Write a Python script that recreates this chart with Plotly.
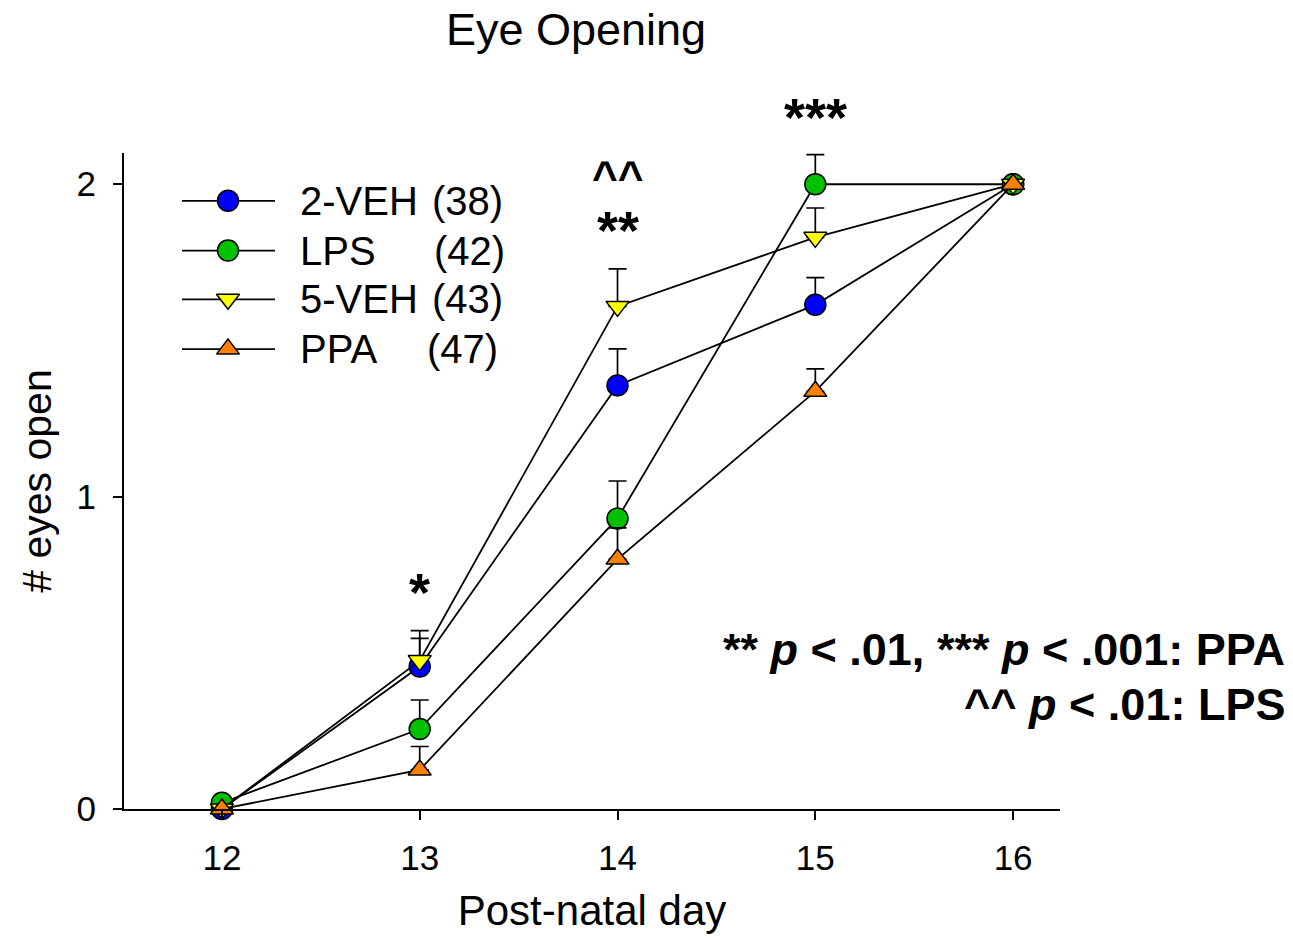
import plotly.graph_objects as go

# ---- data ----
days = [12, 13, 14, 15, 16]
groups = ["2-VEH", "LPS", "5-VEH", "PPA"]
counts = ["(38)", "(42)", "(43)", "(47)"]
veh2_mean = [0.0, 0.456, 1.356, 1.614, 2.0]
veh2_sem = [0.0, 0.090, 0.117, 0.087, 0.0]
lps_mean = [0.02, 0.256, 0.930, 2.0, 2.0]
lps_sem = [0.0, 0.093, 0.120, 0.095, 0.0]
veh5_mean = [0.0, 0.475, 1.609, 1.830, 2.0]
veh5_sem = [0.0, 0.096, 0.120, 0.094, 0.0]
ppa_mean = [0.0, 0.125, 0.800, 1.337, 2.0]
ppa_sem = [0.0, 0.075, 0.100, 0.072, 0.0]
x_ticks = [12, 13, 14, 15, 16]
y_ticks = [0, 1, 2]
sig_labels = ["*", "**", "^^", "***"]
sig_days = [13, 14, 14, 15]

means = [veh2_mean, lps_mean, veh5_mean, ppa_mean]
sems = [veh2_sem, lps_sem, veh5_sem, ppa_sem]
colors = ["#0000FF", "#00C000", "#FFFF00", "#FF8000"]
symbols = ["circle", "circle", "triangle-down", "triangle-up"]
sizes = [21, 21, 20, 20]

FONT = "Arial, 'Liberation Sans', sans-serif"

# plot-area pixel geometry
L, R, T, B = 124, 1060, 153, 812
W, H = 1293, 938
Y_MAX = 2.1


def px(xp):
    return (xp - L) / (R - L)


def py(yp):
    return (B - yp) / (B - T)


fig = go.Figure()
for g, m, s, c, sym, sz in zip(groups, means, sems, colors, symbols, sizes):
    fig.add_trace(go.Scatter(
        x=days, y=m, name=g, mode="lines+markers",
        line=dict(color="black", width=1.8),
        marker=dict(color=c, symbol=sym, size=sz, line=dict(color="black", width=1.5)),
        error_y=dict(type="data", array=s, arrayminus=[0] * len(s), symmetric=False,
                     color="black", thickness=1.7, width=9),
        showlegend=False, cliponaxis=False,
    ))

# ---- custom legend (drawn on a hidden pixel-scaled overlay axis) ----
leg_rows = [201, 251, 300, 350]
for g, c, sym, sz, row in zip(groups, colors, symbols, sizes, leg_rows):
    fig.add_trace(go.Scatter(
        x=[182, 275], y=[row, row], mode="lines", line=dict(color="black", width=1.8),
        xaxis="x2", yaxis="y2", showlegend=False, hoverinfo="skip"))
    fig.add_trace(go.Scatter(
        x=[228], y=[row], mode="markers",
        marker=dict(color=c, symbol=sym, size=sz, line=dict(color="black", width=1.5)),
        xaxis="x2", yaxis="y2", showlegend=False, hoverinfo="skip"))

annotations = []
count_right = [505, 507, 505, 500]
for g, n, row, cr in zip(groups, counts, leg_rows, count_right):
    annotations.append(dict(x=298, y=row, xref="x2", yref="y2", text=g, showarrow=False,
                            xanchor="left", yanchor="middle",
                            font=dict(size=40, family=FONT, color="black")))
    annotations.append(dict(x=cr, y=row, xref="x2", yref="y2", text=n, showarrow=False,
                            xanchor="right", yanchor="middle",
                            font=dict(size=40, family=FONT, color="black")))

# significance marks (x in data units, vertical placement in pixels of the picture)
sig_py = [594, 230, 177, 117]
sig_size = [54, 54, 44, 54]
for lab, d, yp, fs in zip(sig_labels, sig_days, sig_py, sig_size):
    annotations.append(dict(x=d, y=py(yp), xref="x", yref="paper", text="<b>%s</b>" % lab,
                            showarrow=False, xanchor="center", yanchor="middle",
                            font=dict(size=fs, family=FONT, color="black")))

annotations.append(dict(x=px(1287), y=py(652), xref="paper", yref="paper",
                        text="<b>** <i>p</i> &lt; .01, *** <i>p</i> &lt; .001: PPA</b>",
                        showarrow=False, xanchor="right", yanchor="middle",
                        font=dict(size=45, family=FONT, color="black")))
annotations.append(dict(x=px(1287), y=py(707), xref="paper", yref="paper",
                        text="<b>^^ <i>p</i> &lt; .01: LPS</b>",
                        showarrow=False, xanchor="right", yanchor="middle",
                        font=dict(size=45, family=FONT, color="black")))

fig.update_layout(
    width=W, height=938,
    margin=dict(l=L, r=W - R, t=T, b=H - B),
    paper_bgcolor="white", plot_bgcolor="rgba(0,0,0,0)",
    font=dict(family=FONT, color="black"),
    title=dict(text="Eye Opening", x=576 / W, xanchor="center", xref="container",
               y=1 - 29 / H, yanchor="middle", yref="container",
               font=dict(size=45, family=FONT, color="black")),
    xaxis=dict(range=[11.505, 16.237], tickvals=x_ticks, ticktext=[str(t) for t in x_ticks],
               showline=True, linecolor="black", linewidth=2, ticks="outside", ticklen=9,
               tickwidth=2, tickcolor="black", showgrid=False, zeroline=False,
               tickfont=dict(size=35, family=FONT, color="black"), ticklabelstandoff=8,
               title=dict(text="Post-natal day", font=dict(size=42, family=FONT, color="black"),
                          standoff=20)),
    yaxis=dict(range=[0, Y_MAX], tickvals=y_ticks, ticktext=[str(t) for t in y_ticks],
               showline=True, linecolor="black", linewidth=2, ticks="outside", ticklen=9,
               tickwidth=2, tickcolor="black", showgrid=False, zeroline=False,
               tickfont=dict(size=35, family=FONT, color="black"), ticklabelstandoff=10,
               title=dict(text="# eyes open", font=dict(size=41, family=FONT, color="black"),
                          standoff=12)),
    xaxis2=dict(domain=[0, 1], range=[L, R], anchor="y2", visible=False, fixedrange=True),
    yaxis2=dict(domain=[0, 1], range=[B, T], anchor="x2", visible=False, fixedrange=True),
    annotations=annotations,
    showlegend=False,
)

fig.write_html("out.html")
